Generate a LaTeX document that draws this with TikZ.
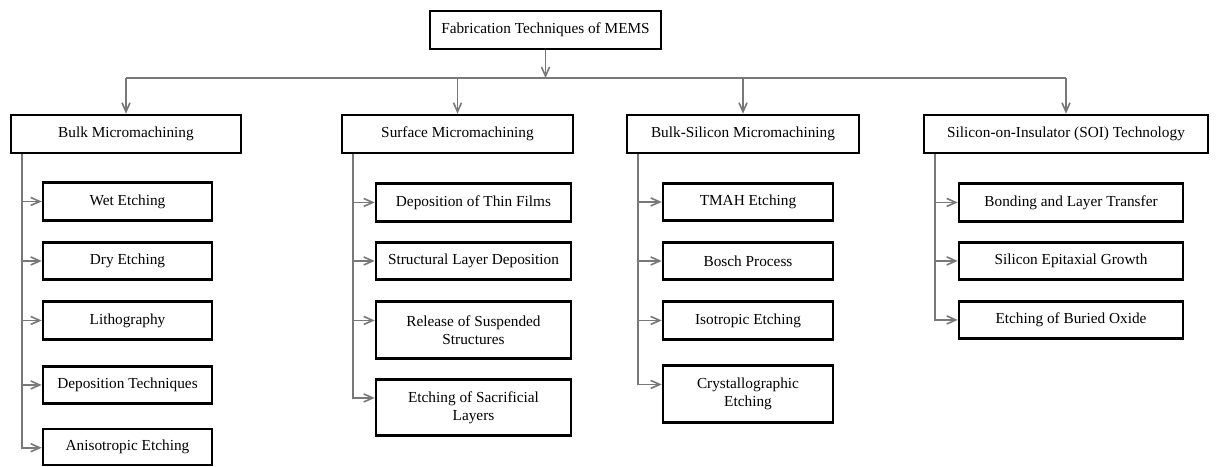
\documentclass[tikz,border=0pt]{standalone}
\usepackage{fontspec}
\setmainfont{Liberation Serif}
\usepackage{tikz}
\usetikzlibrary{arrows.meta}
\usepackage{xcolor}
\definecolor{linkgray}{RGB}{120,120,120}

\begin{document}
\begin{tikzpicture}[x=1pt,y=-1pt]
  \tikzset{box/.style = {shape=rectangle,draw,line width=2.6pt,fill=white,inner sep=2pt,align=center,font=\fontsize{15.3}{18.3}\selectfont}}
    \tikzset{catbox/.style = {box,minimum height=38pt}}
    \tikzset{subbox/.style = {box,minimum height=37.5pt}}
    \tikzset{tallbox/.style = {box,minimum height=56.5pt}}
  \tikzset{%
  tipA/.tip={Straight Barb[length=9pt,width=8pt]},
}
  \tikzset{link/.style = {draw=linkgray,line width=1.6pt}}
  \tikzset{edge/.style = {link,-tipA}}

  \path[fill=white,use as bounding box] (0,0) rectangle (1218,466);

	\node[box,minimum width=231pt,minimum height=38pt] (FT) at (545.5,30) {Fabrication Techniques of MEMS};

	\node[catbox,minimum width=230pt] (BM) at (126,134) {Bulk Micromachining};
	\node[catbox,minimum width=231pt] (SM) at (457.5,134) {Surface Micromachining};
	\node[catbox,minimum width=232pt] (BS) at (743,134) {Bulk-Silicon Micromachining};
	\node[catbox,minimum width=284pt] (SOI) at (1066,134) {Silicon-on-Insulator (SOI) Technology};

	\node[subbox,minimum width=169pt] (WE) at (127.5,201.5) {Wet Etching};
	\node[subbox,minimum width=169pt] (DE) at (127.5,261) {Dry Etching};
	\node[subbox,minimum width=169pt] (LI) at (127.5,320.5) {Lithography};
	\node[subbox,minimum width=169pt] (DT) at (127.5,385) {Deposition Techniques};
	\node[subbox,minimum width=169pt,minimum height=36pt] (AE) at (127.5,447) {Anisotropic Etching};

	\node[subbox,minimum width=195pt] (TF) at (473.5,202.5) {Deposition of Thin Films};
	\node[subbox,minimum width=195pt] (SL) at (473.5,261) {Structural Layer Deposition};
	\node[tallbox,minimum width=195pt] (RS) at (473.5,330) {Release of Suspended\\Structures};
	\node[tallbox,minimum width=195pt] (ES) at (473.5,407.5) {Etching of Sacrificial\\Layers};

	\node[subbox,minimum width=170pt] (TM) at (748,202) {TMAH Etching};
	\node[subbox,minimum width=170pt] (BP) at (748,261) {Bosch Process};
	\node[subbox,minimum width=170pt] (IE) at (748,320.5) {Isotropic Etching};
	\node[tallbox,minimum width=170pt] (CE) at (748,394) {Crystallographic\\Etching};

	\node[subbox,minimum width=224pt] (BL) at (1071,202.5) {Bonding and Layer Transfer};
	\node[subbox,minimum width=224pt] (SE) at (1071,261) {Silicon Epitaxial Growth};
	\node[subbox,minimum width=224pt] (EB) at (1071,320) {Etching of Buried Oxide};

	\coordinate (bus) at (545.5,78);
    \path[edge] (FT) -- (bus);
    \path[link] (bus -| BM) -- (bus -| SOI);

    \foreach \to in {BM,SM,BS,SOI}
    \path[edge] (bus -| \to) -- (\to);

    \foreach \from/\to in {BM/WE, BM/DE, BM/LI, BM/DT, BM/AE, SM/TF, SM/SL, SM/RS, SM/ES, BS/TM, BS/BP, BS/IE, BS/CE, SOI/BL, SOI/SE, SOI/EB}
    \path[edge] ([xshift=12pt]\from.south west) |- ([yshift=-20pt]\to.north west);

\end{tikzpicture}
\end{document}
